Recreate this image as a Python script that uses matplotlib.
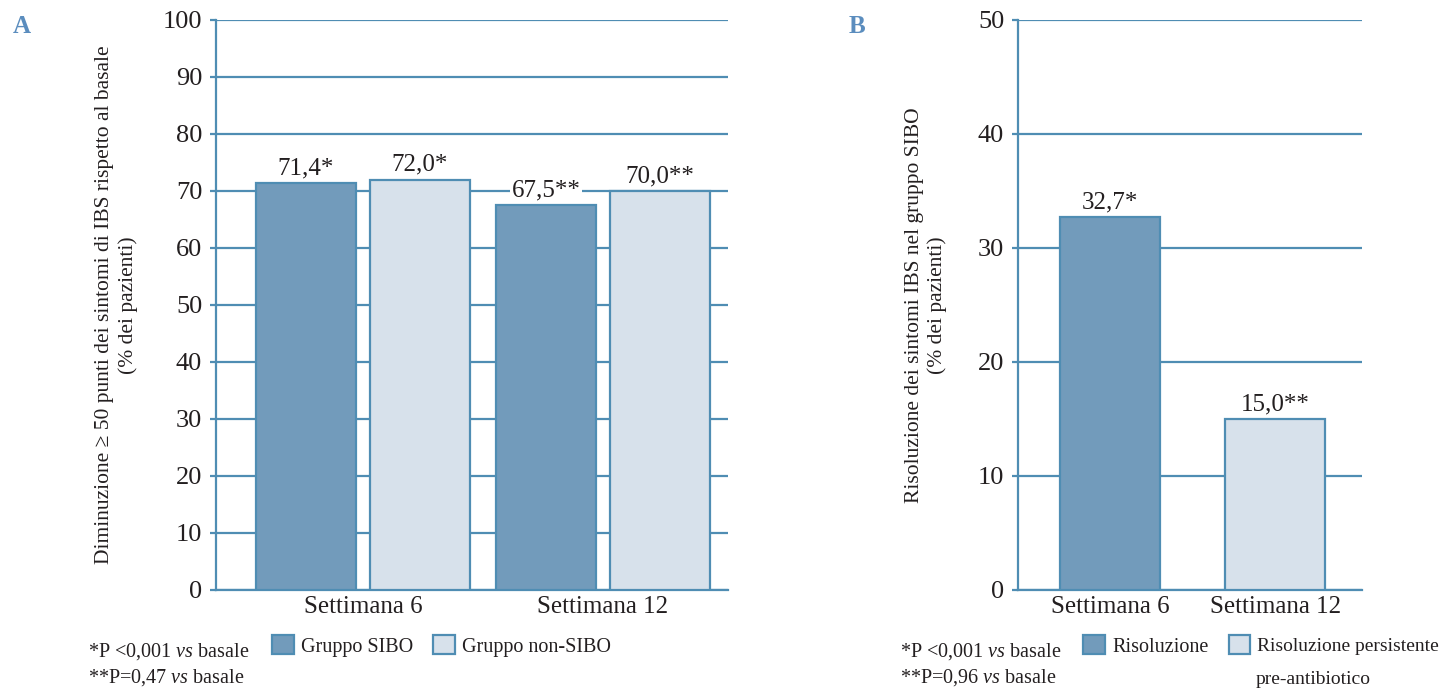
import matplotlib
matplotlib.use('Agg')
import matplotlib.pyplot as plt
import numpy as np

plt.rcParams['font.family'] = ['Liberation Serif', 'DejaVu Serif']
plt.rcParams['mathtext.fontset'] = 'custom'
plt.rcParams['mathtext.rm'] = 'Liberation Serif'
plt.rcParams['mathtext.it'] = 'Liberation Serif:italic'

# --- data ---
weeks = ['Settimana 6', 'Settimana 12']
sibo = [71.4, 67.5]
non_sibo = [72.0, 70.0]
sibo_labels = ['71,4*', '67,5**']
non_sibo_labels = ['72,0*', '70,0**']

b_cats = ['Settimana 6', 'Settimana 12']
b_vals = [32.7, 15.0]
b_labels = ['32,7*', '15,0**']

DARK = '#729bbb'
LIGHT = '#d7e1eb'
EDGE = '#4f8db3'
GRID = '#4f8db3'
TXT = '#231f20'
LETTER = '#5b8dbe'
FS_NOTE = 14.5


def style_axes(ax, ymax, step):
    ax.set_ylim(0, ymax)
    ax.set_yticks(np.arange(0, ymax + 1, step))
    ax.yaxis.grid(True, color=GRID, linewidth=1.6)
    ax.set_axisbelow(True)
    for s in ['top', 'right']:
        ax.spines[s].set_visible(False)
    for s in ['left', 'bottom']:
        ax.spines[s].set_color(GRID)
        ax.spines[s].set_linewidth(1.6)
    ax.tick_params(axis='y', colors=GRID, length=4, width=1.6, pad=6,
                   labelsize=19, labelcolor=TXT)
    ax.tick_params(axis='x', length=0, pad=4, labelsize=18, labelcolor=TXT)


def put_labels(ax, xs, vals, labels, ymax):
    for x, v, t in zip(xs, vals, labels):
        ax.text(x, v + ymax * 0.007, t, ha='center', va='bottom', fontsize=18,
                color=TXT, bbox=dict(facecolor='white', edgecolor='none', pad=1))


def legend_item(handle, label, xpix, ypix, fs=FS_NOTE):
    # one legend entry, top-left of its square at (xpix, ypix) from top-left of figure
    fig.legend(handles=[handle], labels=[label], frameon=False, fontsize=fs,
               loc='upper left', bbox_to_anchor=(xpix / 1443, 1 - ypix / 689),
               bbox_transform=fig.transFigure, handlelength=1.1, handleheight=1.1,
               handletextpad=0.35, borderaxespad=0, borderpad=0, labelcolor=TXT)


fig = plt.figure(figsize=(14.43, 6.89), dpi=100)

# Panel A
axA = fig.add_axes([0.1497, 0.1437, 0.3548, 0.8273])
x = np.arange(len(weeks))
w = 0.417
off = 0.2375
bA1 = axA.bar(x - off, sibo, w, color=DARK, edgecolor=EDGE, linewidth=1.6, zorder=3)
bA2 = axA.bar(x + off, non_sibo, w, color=LIGHT, edgecolor=EDGE, linewidth=1.6, zorder=3)
axA.set_xlim(-0.6125, 1.521)
axA.set_xticks(x)
axA.set_xticklabels(weeks)
style_axes(axA, 100, 10)
put_labels(axA, x - off, sibo, sibo_labels, 100)
put_labels(axA, x + off, non_sibo, non_sibo_labels, 100)
axA.set_ylabel('Diminuzione ≥ 50 punti dei sintomi di IBS rispetto al basale\n(% dei pazienti)',
               fontsize=15.5, color=TXT, labelpad=18, linespacing=1.25)
legend_item(bA1[0], 'Gruppo SIBO', 272, 635)
legend_item(bA2[0], 'Gruppo non-SIBO', 433, 635)

# Panel B
axB = fig.add_axes([0.7055, 0.1437, 0.2384, 0.8273])
xb = np.arange(len(b_cats))
wb = 0.606
bB = axB.bar(xb, b_vals, wb, color=[DARK, LIGHT], edgecolor=EDGE, linewidth=1.6, zorder=3)
axB.set_xlim(-0.558, 1.527)
axB.set_xticks(xb)
axB.set_xticklabels(b_cats)
style_axes(axB, 50, 10)
put_labels(axB, xb, b_vals, b_labels, 50)
axB.set_ylabel('Risoluzione dei sintomi IBS nel gruppo SIBO\n(% dei pazienti)',
               fontsize=15.5, color=TXT, labelpad=22, linespacing=1.25)
legend_item(bB[0], 'Risoluzione', 1083, 635)
legend_item(bB[1], 'Risoluzione persistente', 1229, 635, fs=14)
fig.text(1256 / 1443, 1 - 684 / 689, 'pre-antibiotico', fontsize=14, color=TXT)

# footnotes
fig.text(0.061, 0.047, '*P <0,001 $\\mathit{vs}$ basale', fontsize=FS_NOTE, color=TXT)
fig.text(0.061, 0.009, '**P=0,47 $\\mathit{vs}$ basale', fontsize=FS_NOTE, color=TXT)
fig.text(0.624, 0.047, '*P <0,001 $\\mathit{vs}$ basale', fontsize=FS_NOTE, color=TXT)
fig.text(0.624, 0.009, '**P=0,96 $\\mathit{vs}$ basale', fontsize=FS_NOTE, color=TXT)

# panel letters
fig.text(0.009, 0.952, 'A', fontsize=18, fontweight='bold', color=LETTER)
fig.text(0.588, 0.952, 'B', fontsize=18, fontweight='bold', color=LETTER)

fig.savefig('out.png', dpi=100)
